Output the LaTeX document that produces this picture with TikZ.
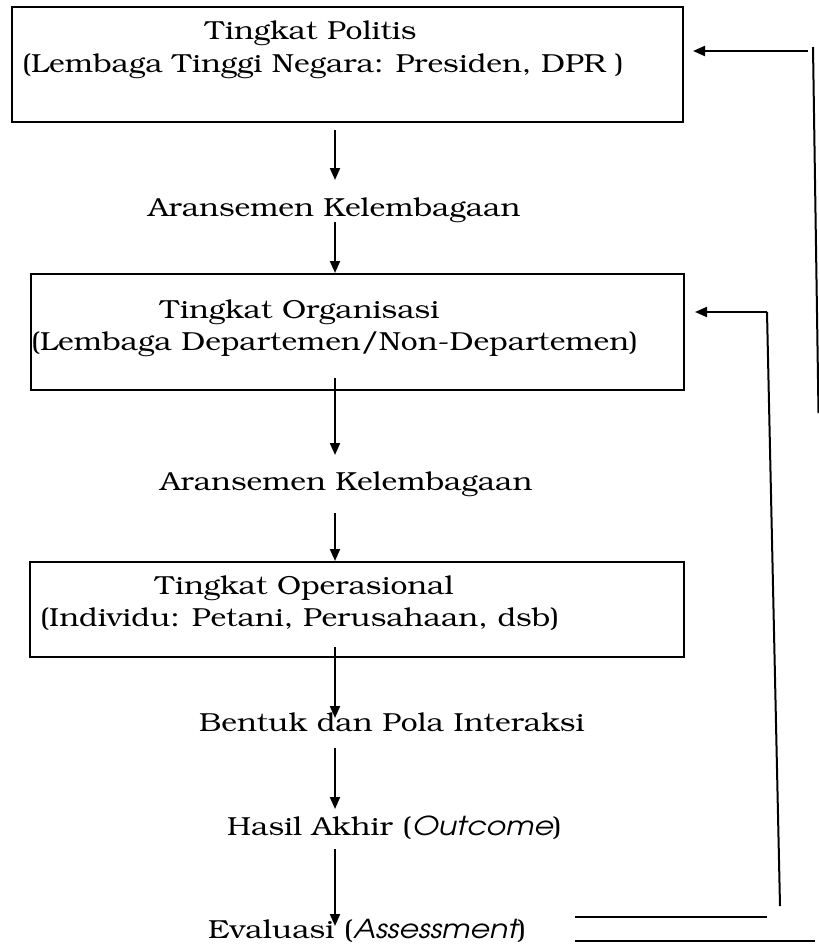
\documentclass[tikz,border=0pt]{standalone}
\usepackage[T1]{fontenc}
\usepackage{bookman}
\usepackage{graphicx}
\usetikzlibrary{arrows.meta}
\newcommand{\engit}[1]{{\fontfamily{pag}\fontshape{sl}\selectfont #1}}
\newcommand{\stretchtxt}[1]{\scalebox{1.15}[1]{#1}}
\tikzset{
  box/.style={draw, line width=2.7bp, minimum width=#1, inner sep=0},
  arr/.style={line width=2bp, -{Triangle[length=12bp,width=10bp]}},
  ln/.style={line width=2bp},
  txt/.style={anchor=base west, inner sep=0, font=\fontsize{26.2}{30}\selectfont},
}
\begin{document}
\begin{tikzpicture}[x=1bp,y=-1bp]
\useasboundingbox (0,0) rectangle (819,945);
% boxes
\node[box=671bp, minimum height=115bp] (b1) at (347.5,64.5) {};
\node[box=653bp, minimum height=116bp] (b2) at (357.5,332) {};
\node[box=654bp, minimum height=95bp] (b3) at (357,609.5) {};
% texts
\node[txt] (b1a) at (205,39) {\stretchtxt{Tingkat Politis}};
\node[txt] (b1b) at (22,72) {\stretchtxt{(Lembaga Tinggi Negara: Presiden, DPR )}};
\node[txt] (t1) at (148,216) {\stretchtxt{Aransemen Kelembagaan}};
\node[txt] (b2a) at (160,318) {\stretchtxt{Tingkat Organisasi}};
\node[txt] (b2b) at (31,350) {\stretchtxt{(Lembaga Departemen/Non-Departemen)}};
\node[txt] (t2) at (160,490) {\stretchtxt{Aransemen Kelembagaan}};
\node[txt] (b3a) at (155,594) {\stretchtxt{Tingkat Operasional}};
\node[txt] (b3b) at (40,626) {\stretchtxt{(Individu: Petani, Perusahaan, dsb)}};
\node[txt] (t3) at (199,731) {\stretchtxt{Bentuk dan Pola Interaksi}};
\node[txt] (t4) at (227,835) {\stretchtxt{Hasil Akhir (\engit{Outcome})}};
\node[txt] (t5) at (208,938) {\stretchtxt{Evaluasi (\engit{Assessment})}};
% vertical arrow end points
\coordinate (a1s) at (335,130); \coordinate (a1e) at (335,180);
\coordinate (a2s) at (335,222); \coordinate (a2e) at (335,273);
\coordinate (a3s) at (335,378); \coordinate (a3e) at (335,455);
\coordinate (a4s) at (335,513); \coordinate (a4e) at (335,561);
\coordinate (a5s) at (335,647); \coordinate (a5e) at (335,718);
\coordinate (a6s) at (335,748); \coordinate (a6e) at (335,809);
\coordinate (a7s) at (335,849); \coordinate (a7e) at (335,926);
\draw[arr] (a1s) -- (a1e);
\draw[arr] (a2s) -- (a2e);
\draw[arr] (a3s) -- (a3e);
\draw[arr] (a4s) -- (a4e);
\draw[arr] (a5s) -- (a5e);
\draw[arr] (a6s) -- (a6e);
\draw[arr] (a7s) -- (a7e);
% feedback lines
\coordinate (f1s) at (808,51); \coordinate (f1e) at (693,51);
\coordinate (r1t) at (813,47); \coordinate (r1b) at (818.5,413);
\coordinate (f2c) at (767,312); \coordinate (f2e) at (695,312);
\coordinate (r2b) at (780,906);
\coordinate (h1a) at (575,917); \coordinate (h1b) at (767,917);
\coordinate (h2a) at (575,941); \coordinate (h2b) at (815,941);
\draw[arr] (f1s) -- (f1e);
\draw[ln] (r1t) -- (r1b);
\draw[arr] (f2c) -- (f2e);
\draw[ln] (f2c) -- (r2b);
\draw[ln] (h1a) -- (h1b);
\draw[ln] (h2a) -- (h2b);
\end{tikzpicture}
\end{document}
